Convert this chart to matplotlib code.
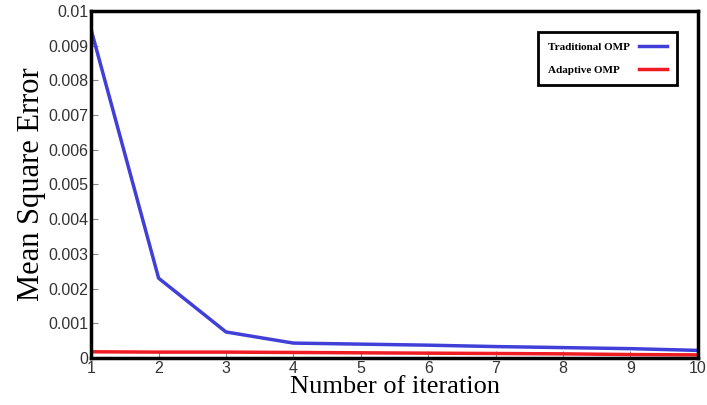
import numpy as np
import matplotlib.pyplot as plt

iterations = [1, 2, 3, 4, 5, 6, 7, 8, 9, 10]
traditional = [0.00945, 0.0023, 0.00075, 0.00043, 0.0004, 0.00037, 0.00033, 0.0003, 0.00027, 0.00022]
adaptive = [0.00018, 0.00017, 0.00017, 0.00016, 0.00015, 0.00014, 0.00013, 0.00012, 0.0001, 0.00009]

fig = plt.figure(figsize=(7.07, 4.05), dpi=100)
ax = fig.add_axes([0.129, 0.116, 0.858, 0.857])

ax.plot(iterations, traditional, color='#4040d8', lw=2.5, label='Traditional OMP')
ax.plot(iterations, adaptive, color='#f01c24', lw=2.5, label='Adaptive OMP')

ax.set_xlim(1, 10)
ax.set_ylim(0, 0.01)
ax.set_xticks(iterations)
ax.set_yticks(np.arange(0, 0.0101, 0.001))
ax.set_yticklabels(['0', '0.001', '0.002', '0.003', '0.004', '0.005',
                    '0.006', '0.007', '0.008', '0.009', '0.01'])
for lab in ax.get_xticklabels() + ax.get_yticklabels():
    lab.set_family('Liberation Sans')
    lab.set_fontsize(11.5)
    lab.set_color('#333333')
ax.tick_params(direction='in', length=5, color='#888888', pad=2)

for s in ax.spines.values():
    s.set_linewidth(2.5)

ax.set_xlabel('Number of iteration', family='Liberation Serif', fontsize=19, labelpad=0)
ax.set_ylabel('Mean Square Error', family='Liberation Serif', fontsize=22, labelpad=2)

leg = ax.legend(loc='upper right', bbox_to_anchor=(0.965, 0.94), borderaxespad=0,
                prop={'family': 'Liberation Serif', 'weight': 'bold', 'size': 8},
                markerfirst=False, fancybox=False, framealpha=1,
                handlelength=2.5, borderpad=0.9, labelspacing=1.2)
leg.get_frame().set_edgecolor('black')
leg.get_frame().set_linewidth(2)

# left-align the labels: widen the gap before the line for shorter labels
fig.canvas.draw()
widths = [t.get_window_extent().width for t in leg.get_texts()]
rows = leg._legend_handle_box.get_children()[0].get_children()
for row, w in zip(rows, widths):
    row.sep += (max(widths) - w) * 72 / fig.dpi

fig.savefig('out.png', dpi=100)
